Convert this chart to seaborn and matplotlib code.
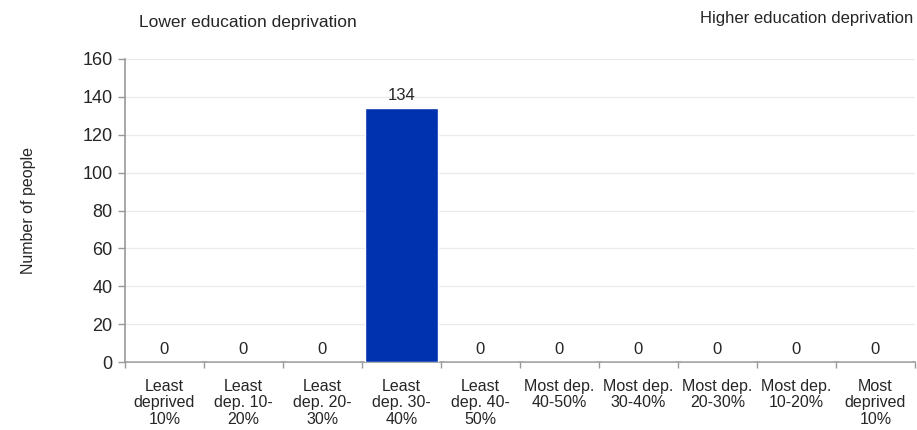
"""
Bar chart: number of people by education deprivation decile
"""

import matplotlib.pyplot as plt
import seaborn as sns
import numpy as np
import pandas as pd

categories = [
    'Least\ndeprived\n10%', 'Least\ndep. 10-\n20%', 'Least\ndep. 20-\n30%',
    'Least\ndep. 30-\n40%', 'Least\ndep. 40-\n50%', 'Most dep.\n40-50%',
    'Most dep.\n30-40%', 'Most dep.\n20-30%', 'Most dep.\n10-20%',
    'Most\ndeprived\n10%',
]
people = [0, 0, 0, 134, 0, 0, 0, 0, 0, 0]
y_ticks = [0, 20, 40, 60, 80, 100, 120, 140, 160]

sns.set_style("white")
plt.rcParams['font.family'] = ['Liberation Sans', 'DejaVu Sans']
plt.rcParams['font.size'] = 11

df = pd.DataFrame({'category': categories, 'people': people})

fig = plt.figure(figsize=(9.17, 4.3), dpi=100)
ax = fig.add_axes([0.1363, 0.1581, 0.8615, 0.7047])

sns.barplot(data=df, x='category', y='people', color='#0032B0',
            saturation=1, width=0.92, ax=ax, zorder=3)

ax.set_ylim(0, 160)
ax.set_xlim(-0.5, len(categories) - 0.5)
ax.set_yticks(y_ticks)
ax.tick_params(axis='y', labelsize=13, length=5, width=1, color='#999999',
               direction='out', left=True, pad=4)
ax.tick_params(axis='x', which='major', length=0, labelsize=11.5, pad=12)
for lbl in ax.get_xticklabels():
    lbl.set_linespacing(1.12)
ax.set_xticks(np.arange(-0.5, len(categories)), minor=True)
ax.tick_params(axis='x', which='minor', length=4, width=1, color='#999999',
               direction='out', bottom=True)
ax.set_xlabel('')
ax.set_ylabel('Number of people', fontsize=11.5)
ax.yaxis.set_label_coords(-0.113, 0.5)

# light gridlines
for y in y_ticks[1:]:
    ax.axhline(y, color='#ebebeb', linewidth=1, zorder=0)

for side in ['top', 'right']:
    ax.spines[side].set_visible(False)
for side in ['left', 'bottom']:
    ax.spines[side].set_color('#999999')
    ax.spines[side].set_linewidth(1.2)

# value labels
for i, v in enumerate(people):
    ax.annotate(str(v), (i, v), xytext=(0, 6), textcoords='offset points',
                ha='center', va='baseline', fontsize=12)

fig.text(0.152, 0.937, 'Lower education deprivation', ha='left',
         va='baseline', fontsize=12.5)
fig.text(0.996, 0.946, 'Higher education deprivation', ha='right',
         va='baseline', fontsize=12)

plt.savefig('out.png', dpi=100)
plt.close()
